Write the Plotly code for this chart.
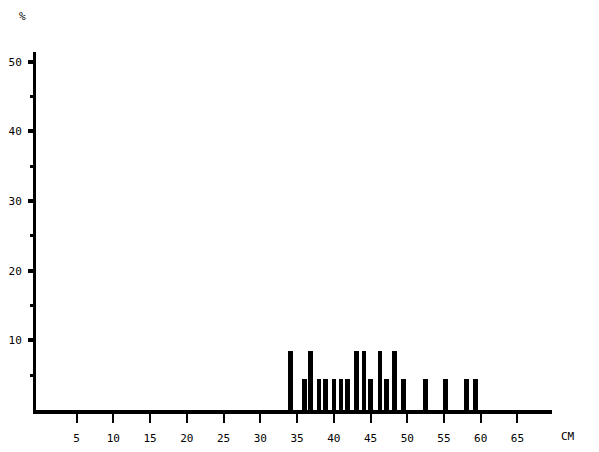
import plotly.graph_objects as go

# Length classes (cm) and percentage of fish
length_cm = [34.1, 36.0, 36.8, 38.0, 38.9, 40.0, 41.0, 41.9, 43.1, 44.1, 45.0,
             46.3, 47.2, 48.3, 49.5, 52.5, 55.2, 58.1, 59.3]
percent = [8.5, 4.5, 8.5, 4.5, 4.5, 4.5, 4.5, 4.5, 8.5, 8.5, 4.5,
           8.5, 4.5, 8.5, 4.5, 4.5, 4.5, 4.5, 4.5]

x_ticks = [5, 10, 15, 20, 25, 30, 35, 40, 45, 50, 55, 60, 65]
y_ticks = [10, 20, 30, 40, 50]

FONT = "DejaVu Sans Mono"

fig = go.Figure()
fig.add_trace(go.Bar(
    x=length_cm, y=percent, width=0.62,
    marker=dict(color="black", line=dict(width=0)),
    showlegend=False,
))

fig.update_layout(
    width=599, height=452,
    margin=dict(l=28, r=55, t=44, b=50),
    paper_bgcolor="white", plot_bgcolor="white",
    bargap=0,
    font=dict(family=FONT, size=11, color="black"),
    xaxis=dict(
        range=[-0.53, 69.7], tickmode="array", tickvals=x_ticks,
        ticktext=[str(v) for v in x_ticks],
        showgrid=False, zeroline=False, automargin=False,
        showline=True, linecolor="black", linewidth=4,
        ticks="outside", ticklen=9, tickwidth=2, tickcolor="black",
        ticklabelstandoff=6,
        tickfont=dict(family=FONT, size=11),
    ),
    yaxis=dict(
        range=[0, 51.4], tickmode="array", tickvals=y_ticks,
        ticktext=[str(v) for v in y_ticks],
        showgrid=False, zeroline=False, automargin=False,
        showline=True, linecolor="black", linewidth=3,
        ticks="outside", ticklen=5, tickwidth=4, tickcolor="black",
        ticklabelstandoff=4,
        tickfont=dict(family=FONT, size=11),
        minor=dict(tickvals=[5, 15, 25, 35, 45], ticks="outside",
                   ticklen=3, tickwidth=3, tickcolor="black"),
    ),
    annotations=[
        dict(text="%", x=-0.027, y=1.098, xref="paper", yref="paper",
             xanchor="center", yanchor="middle",
             showarrow=False, font=dict(family=FONT, size=11)),
        dict(text="CM", x=1.031, y=-0.075, xref="paper", yref="paper",
             xanchor="center", yanchor="middle",
             showarrow=False, font=dict(family=FONT, size=11)),
    ],
)

fig.write_html("out.html")
